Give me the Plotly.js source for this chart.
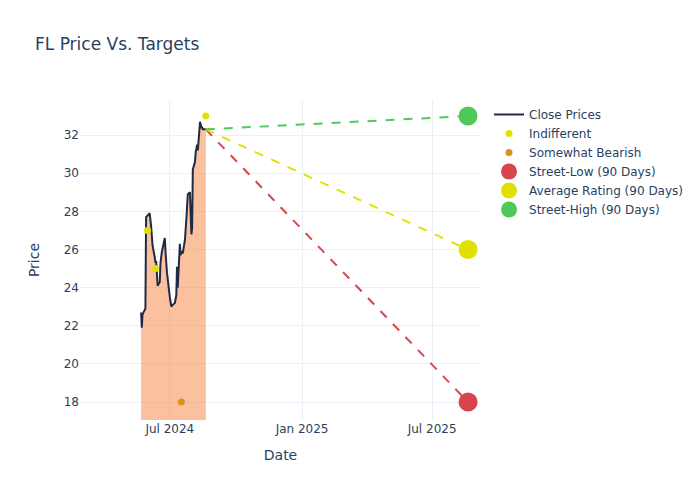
<!DOCTYPE html>
<html>
<head>
<meta charset="utf-8">
<script src="https://cdn.plot.ly/plotly-3.0.1.min.js"></script>
<style>html,body{margin:0;padding:0;background:#fff}#chart{width:700px;height:500px}</style>
</head>
<body>
<div id="chart"></div>
<script>
const closeDates = ["2024-05-22","2024-05-23","2024-05-24","2024-05-28","2024-05-29","2024-05-31","2024-06-03","2024-06-05","2024-06-07","2024-06-10","2024-06-11","2024-06-12","2024-06-14","2024-06-17","2024-06-18","2024-06-20","2024-06-24","2024-06-25","2024-06-27","2024-07-01","2024-07-03","2024-07-05","2024-07-08","2024-07-10","2024-07-11","2024-07-12","2024-07-15","2024-07-16","2024-07-17","2024-07-19","2024-07-22","2024-07-24","2024-07-26","2024-07-29","2024-07-30","2024-07-31","2024-08-01","2024-08-02","2024-08-05","2024-08-06","2024-08-08","2024-08-09","2024-08-12","2024-08-13","2024-08-14","2024-08-15","2024-08-16","2024-08-19","2024-08-20"];
const closePrices = [22.7,21.9,22.6,22.9,27.7,27.8,27.9,27.2,26.2,25.6,25.3,25.4,24.1,24.3,25.3,25.9,26.6,25.9,24.8,23.5,23.0,23.1,23.2,23.6,25.1,24.0,26.3,25.7,25.9,25.8,26.5,27.6,28.9,29.0,27.6,26.8,27.1,30.2,30.6,31.1,31.5,31.2,32.7,32.5,32.4,32.4,32.3,32.3,32.3];

const indifferentDates = ["2024-05-31","2024-06-11","2024-08-20"];
const indifferentPrices = [27,25,33];
const bearishDates = ["2024-07-17"];
const bearishPrices = [18];

const lastDate = "2024-08-20";
const lastPrice = 32.3;
const targetDate = "2025-08-20";
const streetLow = 18;
const averageRating = 26;
const streetHigh = 33;

const font = {family: "DejaVu Sans, sans-serif", color: "#2a3f5f"};

const traces = [
  {x: closeDates, y: closePrices, type: "scatter", mode: "none", fill: "tozeroy",
   fillcolor: "rgba(248,130,60,0.5)", showlegend: false, hoverinfo: "skip"},
  {x: closeDates, y: closePrices, type: "scatter", mode: "lines", name: "Close Prices",
   line: {color: "#1f2a44", width: 2}},
  {x: indifferentDates, y: indifferentPrices, type: "scatter", mode: "markers", name: "Indifferent",
   marker: {color: "#e1e100", size: 7}},
  {x: bearishDates, y: bearishPrices, type: "scatter", mode: "markers", name: "Somewhat Bearish",
   marker: {color: "#dc9020", size: 7}},
  {x: [lastDate, targetDate], y: [lastPrice, streetLow], type: "scatter", mode: "lines",
   line: {color: "#d64550", width: 2, dash: "dash"}, showlegend: false},
  {x: [lastDate, targetDate], y: [lastPrice, averageRating], type: "scatter", mode: "lines",
   line: {color: "#e1e100", width: 2, dash: "dash"}, showlegend: false},
  {x: [lastDate, targetDate], y: [lastPrice, streetHigh], type: "scatter", mode: "lines",
   line: {color: "#50c85a", width: 2, dash: "dash"}, showlegend: false},
  {x: [targetDate], y: [streetLow], type: "scatter", mode: "markers", name: "Street-Low (90 Days)",
   marker: {color: "#d64550", size: 19}},
  {x: [targetDate], y: [averageRating], type: "scatter", mode: "markers", name: "Average Rating (90 Days)",
   marker: {color: "#e1e100", size: 19}},
  {x: [targetDate], y: [streetHigh], type: "scatter", mode: "markers", name: "Street-High (90 Days)",
   marker: {color: "#50c85a", size: 19}}
];

const layout = {
  width: 700, height: 500,
  font: Object.assign({size: 12}, font),
  paper_bgcolor: "#fff", plot_bgcolor: "#fff",
  title: {text: "FL Price Vs. Targets", x: 0.05, font: Object.assign({size: 17}, font)},
  margin: {t: 100, b: 80, l: 80, r: 80},
  xaxis: {
    title: {text: "Date", font: Object.assign({size: 14}, font), standoff: 15},
    automargin: true,
    type: "date", range: ["2024-02-27", "2025-09-07"],
    tickvals: ["2024-07-01", "2025-01-01", "2025-07-01"],
    ticktext: ["Jul 2024", "Jan 2025", "Jul 2025"],
    gridcolor: "#EBF0F8", zeroline: false, showline: false
  },
  yaxis: {
    title: {text: "Price", font: Object.assign({size: 14}, font), standoff: 20},
    automargin: true,
    range: [17.06, 33.84], dtick: 2,
    gridcolor: "#EBF0F8", zeroline: false, showline: false
  },
  legend: {font: Object.assign({size: 12}, font)}
};

Plotly.newPlot("chart", traces, layout, {displayModeBar: false});
</script>
</body>
</html>
